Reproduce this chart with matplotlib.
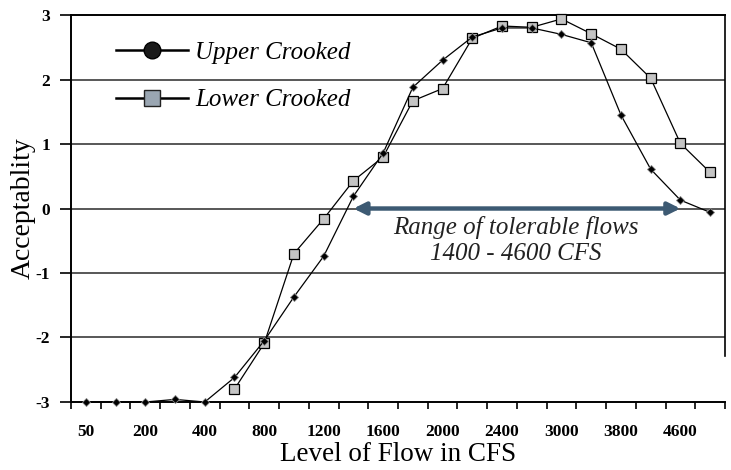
import matplotlib
matplotlib.use("Agg")
import matplotlib.pyplot as plt
from matplotlib.lines import Line2D

# flow categories (CFS) - every other one is labelled on the axis
flows = ["50", "100", "200", "300", "400", "600", "800", "1000", "1200", "1400", "1600",
         "1800", "2000", "2200", "2400", "2700", "3000", "3400", "3800", "4200", "4600", "5000"]
tick_labels = ["50", "200", "400", "800", "1200", "1600", "2000", "2400", "3000", "3800", "4600"]

upper = [-3.0, -3.0, -3.0, -2.96, -3.0, -2.62, -2.05, -1.37, -0.74, 0.19, 0.86,
         1.88, 2.3, 2.66, 2.8, 2.8, 2.7, 2.57, 1.45, 0.61, 0.13, -0.06]
# lower crooked starts at 600 cfs
lower_flows = flows[5:]
lower = [-2.8, -2.09, -0.7, -0.16, 0.43, 0.8, 1.67, 1.86, 2.64, 2.83, 2.81, 2.94,
         2.71, 2.47, 2.02, 1.01, 0.56]

range_lo, range_hi = "1400", "4600"

plt.rcParams["font.family"] = ["Liberation Serif", "DejaVu Serif"]

fig = plt.figure(figsize=(7.31, 4.70), dpi=100)
ax = fig.add_axes([0.0971, 0.1447, 0.8947, 0.8233])

xu = [flows.index(f) for f in flows]
xl = [flows.index(f) for f in lower_flows]

# gridlines
for yv in [-2, -1, 0, 1, 2]:
    ax.axhline(yv, color="#4a4a4a", lw=1.3, zorder=1)

ax.plot(xl, lower, color="black", lw=0.9, marker="s", ms=6.5, mfc="#c4c4c4", mec="black",
        mew=0.9, zorder=3, clip_on=False)
ax.plot(xu, upper, color="black", lw=0.9, marker="D", ms=4, mfc="black", mec="#888888",
        mew=0.6, zorder=4, clip_on=False)

# tolerable range arrow
ax.annotate("", xy=(flows.index(range_hi), 0), xytext=(flows.index(range_lo), 0),
            arrowprops=dict(arrowstyle="<|-|>", color="#3d5a73", lw=3.2, mutation_scale=18,
                            shrinkA=0, shrinkB=0), zorder=5)
ax.text(14.45, -0.5, "Range of tolerable flows\n1400 - 4600 CFS", ha="center", va="center",
        fontsize=18, style="italic", color="#222222", linespacing=1.25)

ax.set_xlim(-0.5, len(flows) - 0.5)
ax.set_ylim(-3, 3)
ax.set_yticks([-3, -2, -1, 0, 1, 2, 3])
ax.set_yticklabels(["-3", "-2", "-1", "0", "1", "2", "3"], fontsize=12.5, fontweight="bold")
ax.tick_params(axis="y", length=8, width=1.2, direction="out", pad=7)

ax.set_xticks([flows.index(t) for t in tick_labels])
ax.set_xticklabels(tick_labels, fontsize=12.5, fontweight="bold")
ax.set_xticks([i - 0.5 for i in range(len(flows) + 1)], minor=True)
ax.tick_params(axis="x", which="major", length=0, pad=16)
ax.tick_params(axis="x", which="minor", length=5, width=1.2, direction="out")

for s in ["left", "bottom", "top"]:
    ax.spines[s].set_linewidth(1.4)
ax.spines["right"].set_linewidth(1.2)
ax.spines["right"].set_bounds(-2.28, 3)

ax.set_xlabel("Level of Flow in CFS", fontsize=19.5, labelpad=1)
ax.set_ylabel("Acceptablity", fontsize=20, labelpad=0)

handles = [Line2D([], [], color="black", lw=1.8, marker="o", ms=12, mfc="#1a1a1a", mec="black"),
           Line2D([], [], color="black", lw=1.8, marker="s", ms=12, mfc="#9aa6b2", mec="#222222")]
leg = ax.legend(handles, ["Upper Crooked", "Lower Crooked"], loc="upper left",
                bbox_to_anchor=(0.035, 0.99), frameon=False, handlelength=2.85,
                handletextpad=0.3, labelspacing=1.0, prop={"size": 18, "style": "italic"})

fig.savefig("out.png", dpi=100)
